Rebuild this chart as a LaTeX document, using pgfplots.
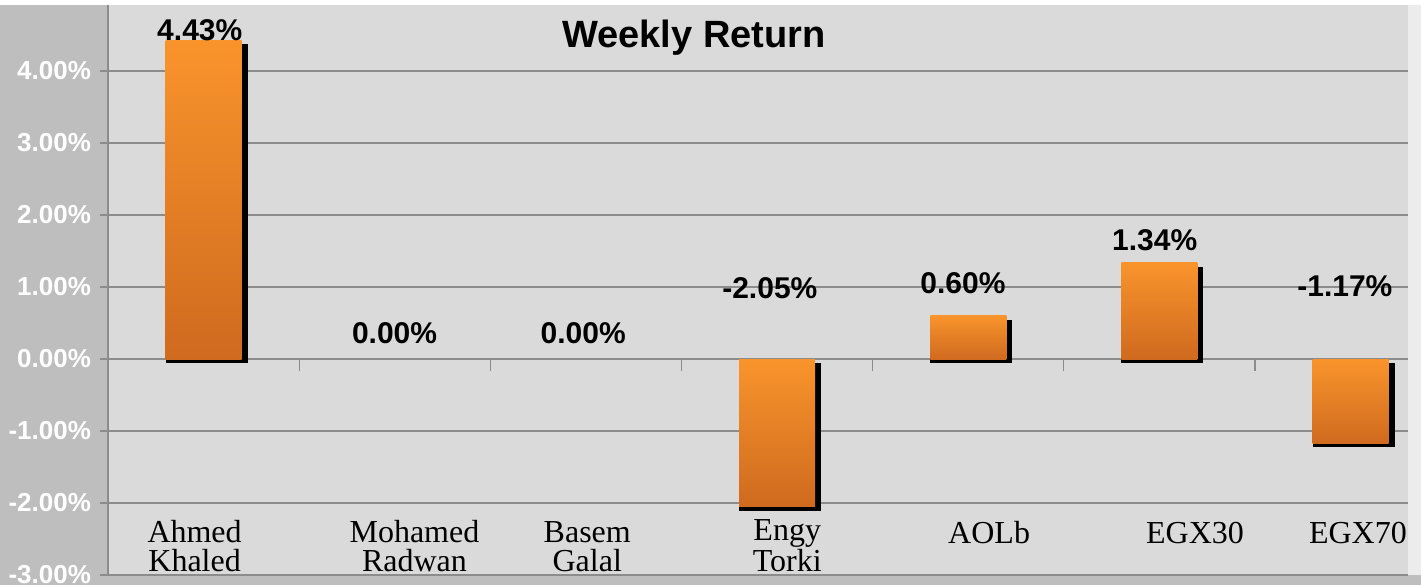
\documentclass[border=0pt]{standalone}
\usepackage{pgfplots}
\pgfplotsset{compat=1.18}
\usepackage{fontspec}
\setmainfont{Liberation Serif}
\newfontfamily\arial{Liberation Sans}
\definecolor{panel}{HTML}{BEBEBE}
\definecolor{plotbg}{HTML}{DADADA}
\definecolor{gridc}{HTML}{8C8C8C}
\definecolor{otop}{HTML}{F9942C}
\definecolor{obot}{HTML}{CF6A1F}
\begin{document}
\begin{tikzpicture}
\useasboundingbox (-54pt,-5pt) rectangle (656.5pt,287.5pt);
\fill[white] (-54pt,-5pt) rectangle (656.5pt,287.5pt);
\fill[panel] (-54pt,-5pt) rectangle (0pt,285pt);
\fill[panel] (-54pt,-5pt) rectangle (656.5pt,0pt);
\fill[gray!15] (650pt,0pt) rectangle (656.5pt,285pt);
\begin{axis}[
  at={(0pt,0pt)}, anchor=south west,
  scale only axis, width=650pt, height=285pt,
  xmin=-0.5, xmax=6.3, ymin=-3, ymax=4.917,
  axis background/.style={fill=plotbg},
  axis x line*=bottom, axis y line*=left,
  axis line style={gridc, line width=0.6pt},
  xtick=\empty,
  ytick={-3,-2,-1,0,1,2,3,4},
  ymajorgrids, grid style={gridc, line width=0.7pt},
  tick align=outside, major tick length=4pt,
  tick style={gridc, line width=0.6pt},
  /pgf/number format/assume math mode=true,
  yticklabel={\pgfmathprintnumber[fixed,fixed zerofill,precision=2]{\tick}\%},
  yticklabel style={font=\arial\bfseries\fontsize{13}{13}\selectfont, text=white, xshift=-1pt},
  clip=false,
  shadowbar/.style={ybar, bar width=41pt, bar shift=1.5pt, fill=black, draw=none, yshift=-2pt},
  obar/.style={ybar, bar width=38pt, bar shift=0pt, draw=none, top color=otop, bottom color=obot},
]
% shadows (values: Ahmed 4.43, Mohamed 0, Basem 0, Engy -2.05, AOLb 0.60, EGX30 1.34, EGX70 -1.17)
\addplot[shadowbar] coordinates {(0,4.43)};
\addplot[shadowbar] coordinates {(3,-2.05)};
\addplot[shadowbar] coordinates {(4,0.60)};
\addplot[shadowbar] coordinates {(5,1.34)};
\addplot[shadowbar] coordinates {(6,-1.17)};
% bars, each shaded separately
\addplot[obar] coordinates {(0,4.43)};
\addplot[obar] coordinates {(3,-2.05)};
\addplot[obar] coordinates {(4,0.60)};
\addplot[obar] coordinates {(5,1.34)};
\addplot[obar] coordinates {(6,-1.17)};
% small category ticks on zero line
\draw[gridc, line width=0.6pt] (axis cs:0.5,0) -- (axis cs:0.5,-0.17);
\draw[gridc, line width=0.6pt] (axis cs:1.5,0) -- (axis cs:1.5,-0.17);
\draw[gridc, line width=0.6pt] (axis cs:2.5,0) -- (axis cs:2.5,-0.17);
\draw[gridc, line width=0.6pt] (axis cs:3.5,0) -- (axis cs:3.5,-0.17);
\draw[gridc, line width=0.6pt] (axis cs:4.5,0) -- (axis cs:4.5,-0.17);
\draw[gridc, line width=0.6pt] (axis cs:5.5,0) -- (axis cs:5.5,-0.17);
% value labels
\begin{scope}[every node/.style={font=\arial\bfseries\fontsize{15}{15}\selectfont, inner sep=0pt}]
\node at (axis cs:-0.02,4.57) {4.43\%};
\node at (axis cs:0.999,0.36) {0.00\%};
\node at (axis cs:1.986,0.36) {0.00\%};
\node at (axis cs:2.962,0.99) {-2.05\%};
\node at (axis cs:3.972,1.06) {0.60\%};
\node at (axis cs:4.975,1.65) {1.34\%};
\node at (axis cs:5.97,1.01) {-1.17\%};
\end{scope}
% title
\node[font=\arial\bfseries\fontsize{19}{19}\selectfont, inner sep=0pt] at (axis cs:2.565,4.458) {Weekly Return};
% category labels
\begin{scope}[every node/.style={font=\fontsize{16}{14.5}\selectfont, align=center, anchor=base, inner sep=0pt}]
\node at (axis cs:-0.047,-2.958) {Ahmed\\Khaled};
\node at (axis cs:1.103,-2.958) {Mohamed\\Radwan};
\node at (axis cs:2.007,-2.958) {Basem\\Galal};
\node at (axis cs:3.053,-2.958) {Engy\\Torki};
\node at (axis cs:4.109,-2.556) {AOLb};
\node at (axis cs:5.186,-2.556) {EGX30};
\node at (axis cs:6.038,-2.556) {EGX70};
\end{scope}
\end{axis}
\end{tikzpicture}
\end{document}
